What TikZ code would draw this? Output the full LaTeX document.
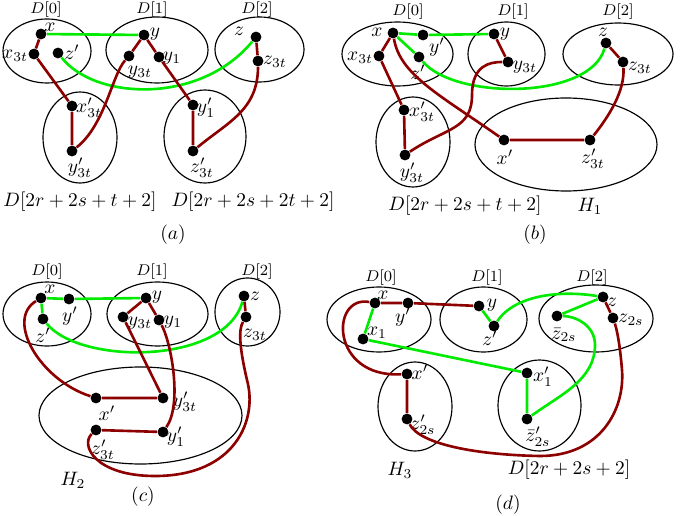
\documentclass[tikz,border=0pt]{standalone}
\usepackage{tikz}
\definecolor{pathred}{RGB}{140,0,0}
\definecolor{pathgreen}{RGB}{0,235,0}
\begin{document}
\begin{tikzpicture}[x=0.0181cm,y=-0.0181cm,
  pt/.style={circle,fill=black,inner sep=0pt,minimum size=5.6pt},
  lab/.style={inner sep=0pt},
  part/.style={font=\footnotesize,inner sep=0pt},
  blob/.style={draw=black,line width=0.6pt},
  rpath/.style={draw=pathred,line width=1.35pt},
  gpath/.style={draw=pathgreen,line width=1.35pt}]
\useasboundingbox (0,0) rectangle (681,516);

% (a)
\draw[blob] (47,51) ellipse (44 and 32);
\draw[blob] (157,50) ellipse (51 and 33);
\draw[blob] (259.5,49.5) ellipse (44.5 and 32.5);
\draw[blob] (80,137.5) ellipse (37 and 45.5);
\draw[blob] (205,136.5) ellipse (41 and 46.5);
\node[part] (a-d0) at (46,10) {$D[0]$};
\node[part] (a-d1) at (152,10) {$D[1]$};
\node[part] (a-d2) at (257,10) {$D[2]$};
\node[pt] (a-x) at (41,34) {};      \node[lab] (a-lx) at (50,27) {$x$};
\node[pt] (a-x3t) at (34,54) {};    \node[lab] (a-lx3t) at (15,56) {$x_{3t}$};
\node[pt] (a-zp) at (58,53) {};     \node[lab] (a-lzp) at (72,52) {$z'$};
\node[pt] (a-y) at (144,35) {};     \node[lab] (a-ly) at (155,34) {$y$};
\node[pt] (a-y3t) at (129,56) {};   \node[lab] (a-ly3t) at (140,72) {$y_{3t}$};
\node[pt] (a-y1) at (159,57) {};    \node[lab] (a-ly1) at (172,58) {$y_1$};
\node[pt] (a-z) at (256,37) {};     \node[lab] (a-lz) at (239,31) {$z$};
\node[pt] (a-z3t) at (258,61) {};   \node[lab] (a-lz3t) at (275,62) {$z_{3t}$};
\node[pt] (a-xp3t) at (72,106) {};  \node[lab] (a-lxp3t) at (89,108) {$x'_{3t}$};
\node[pt] (a-yp3t) at (72,151) {};  \node[lab] (a-lyp3t) at (80,168) {$y'_{3t}$};
\node[pt] (a-yp1) at (193,105) {};  \node[lab] (a-lyp1) at (206,108) {$y'_1$};
\node[pt] (a-zp3t) at (193,151) {}; \node[lab] (a-lzp3t) at (202,168) {$z'_{3t}$};
\node[lab] (a-dl) at (80,202) {$D[2r+2s+t+2]$};
\node[lab] (a-dr) at (253,202) {$D[2r+2s+2t+2]$};
\node[lab] (a-cap) at (173,235) {$(a)$};
\draw[gpath] (a-x) -- (a-y);
\draw[gpath] (a-zp) .. controls (95,100) and (200,105) .. (a-z);
\draw[rpath] (a-x) -- (a-x3t) -- (a-xp3t) -- (a-yp3t)
  .. controls (105,125) and (112,75) .. (a-y3t) -- (a-y) -- (a-y1) -- (a-yp1)
  -- (a-zp3t) .. controls (228,122) and (258,110) .. (a-z3t) -- (a-z);

% (b)
\draw[blob] (397.5,54) ellipse (55.5 and 32);
\draw[blob] (506.5,54) ellipse (38.5 and 32);
\draw[blob] (618,54) ellipse (55 and 31);
\draw[blob] (413,142) ellipse (37 and 45);
\draw[blob] (566,144.5) ellipse (91 and 46.5);
\node[part] (b-d0) at (408,12) {$D[0]$};
\node[part] (b-d1) at (513,12) {$D[1]$};
\node[part] (b-d2) at (618,12) {$D[2]$};
\node[pt] (b-x) at (393,33) {};     \node[lab] (b-lx) at (377,32) {$x$};
\node[pt] (b-yp) at (423,35) {};    \node[lab] (b-lyp) at (437,47) {$y'$};
\node[pt] (b-x3t) at (379,56) {};   \node[lab] (b-lx3t) at (360,58) {$x_{3t}$};
\node[pt] (b-zp) at (419,57) {};    \node[lab] (b-lzp) at (418,72) {$z'$};
\node[pt] (b-y) at (494,34) {};     \node[lab] (b-ly) at (505,34) {$y$};
\node[pt] (b-y3t) at (508,62) {};   \node[lab] (b-ly3t) at (525,67) {$y_{3t}$};
\node[pt] (b-z) at (606,43) {};     \node[lab] (b-lz) at (603,32) {$z$};
\node[pt] (b-z3t) at (623,62) {};   \node[lab] (b-lz3t) at (640,68) {$z_{3t}$};
\node[pt] (b-xp3t) at (404,110) {}; \node[lab] (b-lxp3t) at (422,112) {$x'_{3t}$};
\node[pt] (b-yp3t) at (405,155) {}; \node[lab] (b-lyp3t) at (412,173) {$y'_{3t}$};
\node[pt] (b-xp) at (504,140) {};   \node[lab] (b-lxp) at (505,157) {$x'$};
\node[pt] (b-zp3t) at (590,140) {}; \node[lab] (b-lzp3t) at (593,159) {$z'_{3t}$};
\node[lab] (b-dl) at (465,206) {$D[2r+2s+t+2]$};
\node[lab] (b-h1) at (590,206) {$H_1$};
\node[lab] (b-cap) at (535,235) {$(b)$};
\draw[gpath] (b-x) -- (b-yp) -- (b-y);
\draw[gpath] (b-x) -- (b-zp) .. controls (455,100) and (590,100) .. (b-z);
\draw[rpath] (b-x) -- (b-x3t) -- (b-xp3t) -- (b-yp3t)
  .. controls (445,128) and (472,130) .. (472,95)
  .. controls (472,65) and (490,62) .. (b-y3t) -- (b-y);
\draw[rpath] (b-x) .. controls (400,75) and (440,95) .. (b-xp) -- (b-zp3t)
  .. controls (610,115) and (625,90) .. (b-z3t) -- (b-z);

% (c)
\draw[blob] (47,314) ellipse (44 and 32);
\draw[blob] (157.5,314) ellipse (50.5 and 32);
\draw[blob] (247.5,312) ellipse (32.5 and 34);
\draw[blob] (140.5,415.5) ellipse (101.5 and 48.5);
\node[part] (c-d0) at (47,272) {$D[0]$};
\node[part] (c-d1) at (152,272) {$D[1]$};
\node[part] (c-d2) at (257,272) {$D[2]$};
\node[pt] (c-x) at (41,298) {};     \node[lab] (c-lx) at (50,289) {$x$};
\node[pt] (c-yp) at (69,299) {};    \node[lab] (c-lyp) at (70,316) {$y'$};
\node[pt] (c-zp) at (43,319) {};    \node[lab] (c-lzp) at (43,335) {$z'$};
\node[pt] (c-y) at (146,298) {};    \node[lab] (c-ly) at (157,297) {$y$};
\node[pt] (c-y3t) at (123,317) {};  \node[lab] (c-ly3t) at (140,323) {$y_{3t}$};
\node[pt] (c-y1) at (159,320) {};   \node[lab] (c-ly1) at (173,322) {$y_1$};
\node[pt] (c-z) at (244,296) {};    \node[lab] (c-lz) at (255,296) {$z$};
\node[pt] (c-z3t) at (246,317) {};  \node[lab] (c-lz3t) at (255,335) {$z_{3t}$};
\node[pt] (c-xp) at (96,398) {};    \node[lab] (c-lxp) at (107,413) {$x'$};
\node[pt] (c-yp3t) at (163,398) {}; \node[lab] (c-lyp3t) at (185,402) {$y'_{3t}$};
\node[pt] (c-zp3t) at (96,430) {};  \node[lab] (c-lzp3t) at (103,450) {$z'_{3t}$};
\node[pt] (c-yp1) at (163,432) {};  \node[lab] (c-lyp1) at (176,437) {$y'_1$};
\node[lab] (c-h2) at (73,480) {$H_2$};
\node[lab] (c-cap) at (143,497) {$(c)$};
\draw[gpath] (c-x) -- (c-yp) -- (c-y);
\draw[gpath] (c-x) -- (c-zp) .. controls (80,365) and (225,365) .. (c-z);
\draw[rpath] (c-x) .. controls (5,320) and (40,380) .. (c-xp) -- (c-yp3t)
  -- (c-y3t) -- (c-y) -- (c-y1) .. controls (172,345) and (182,405) .. (c-yp1)
  -- (c-zp3t) .. controls (80,445) and (95,476) .. (155,476)
  .. controls (235,476) and (258,420) .. (247,380)
  .. controls (240,350) and (238,330) .. (c-z3t) -- (c-z);

% (d)
\draw[blob] (379,319.5) ellipse (52 and 32.5);
\draw[blob] (483.5,319.5) ellipse (43.5 and 32.5);
\draw[blob] (596,318.5) ellipse (57 and 33.5);
\draw[blob] (415,406.5) ellipse (37 and 44.5);
\draw[blob] (539.5,405.5) ellipse (41.5 and 45.5);
\node[part] (d-d0) at (381,278) {$D[0]$};
\node[part] (d-d1) at (487,278) {$D[1]$};
\node[part] (d-d2) at (592,278) {$D[2]$};
\node[pt] (d-x) at (375,303) {};     \node[lab] (d-lx) at (383,295) {$x$};
\node[pt] (d-yp) at (408,303) {};    \node[lab] (d-lyp) at (403,317) {$y'$};
\node[pt] (d-x1) at (363,339) {};    \node[lab] (d-lx1) at (377,333) {$x_1$};
\node[pt] (d-y) at (479,306) {};     \node[lab] (d-ly) at (492,305) {$y$};
\node[pt] (d-zp) at (494,326) {};    \node[lab] (d-lzp) at (490,338) {$z'$};
\node[pt] (d-z) at (603,297) {};     \node[lab] (d-lz) at (612,302) {$z$};
\node[pt] (d-z2s) at (613,318) {};   \node[lab] (d-lz2s) at (631,320) {$z_{2s}$};
\node[pt] (d-zb2s) at (557,316) {};  \node[lab] (d-lzb2s) at (564,335) {$\bar z_{2s}$};
\node[pt] (d-xp) at (407,374) {};    \node[lab] (d-lxp) at (420,372) {$x'$};
\node[pt] (d-zp2s) at (407,419) {};  \node[lab] (d-lzp2s) at (423,425) {$z'_{2s}$};
\node[pt] (d-xp1) at (527,373) {};   \node[lab] (d-lxp1) at (543,377) {$x'_1$};
\node[pt] (d-zbp2s) at (527,419) {}; \node[lab] (d-lzbp2s) at (538,437) {$\bar z'_{2s}$};
\node[lab] (d-h3) at (400,470) {$H_3$};
\node[lab] (d-dr) at (569,470) {$D[2r+2s+2]$};
\node[lab] (d-cap) at (508,505) {$(d)$};
\draw[gpath] (d-x) -- (d-x1) -- (d-xp1) -- (d-zbp2s)
  .. controls (560,395) and (595,380) .. (595,345)
  .. controls (595,325) and (575,316) .. (d-zb2s) -- (d-z)
  .. controls (560,290) and (515,295) .. (d-zp) -- (d-y);
\draw[rpath] (d-y) -- (d-yp) -- (d-x) .. controls (330,295) and (330,378) .. (d-xp)
  -- (d-zp2s) .. controls (420,445) and (480,455) .. (540,456)
  .. controls (600,456) and (625,410) .. (622,370)
  .. controls (620,345) and (617,330) .. (d-z2s) -- (d-z);
\end{tikzpicture}
\end{document}
